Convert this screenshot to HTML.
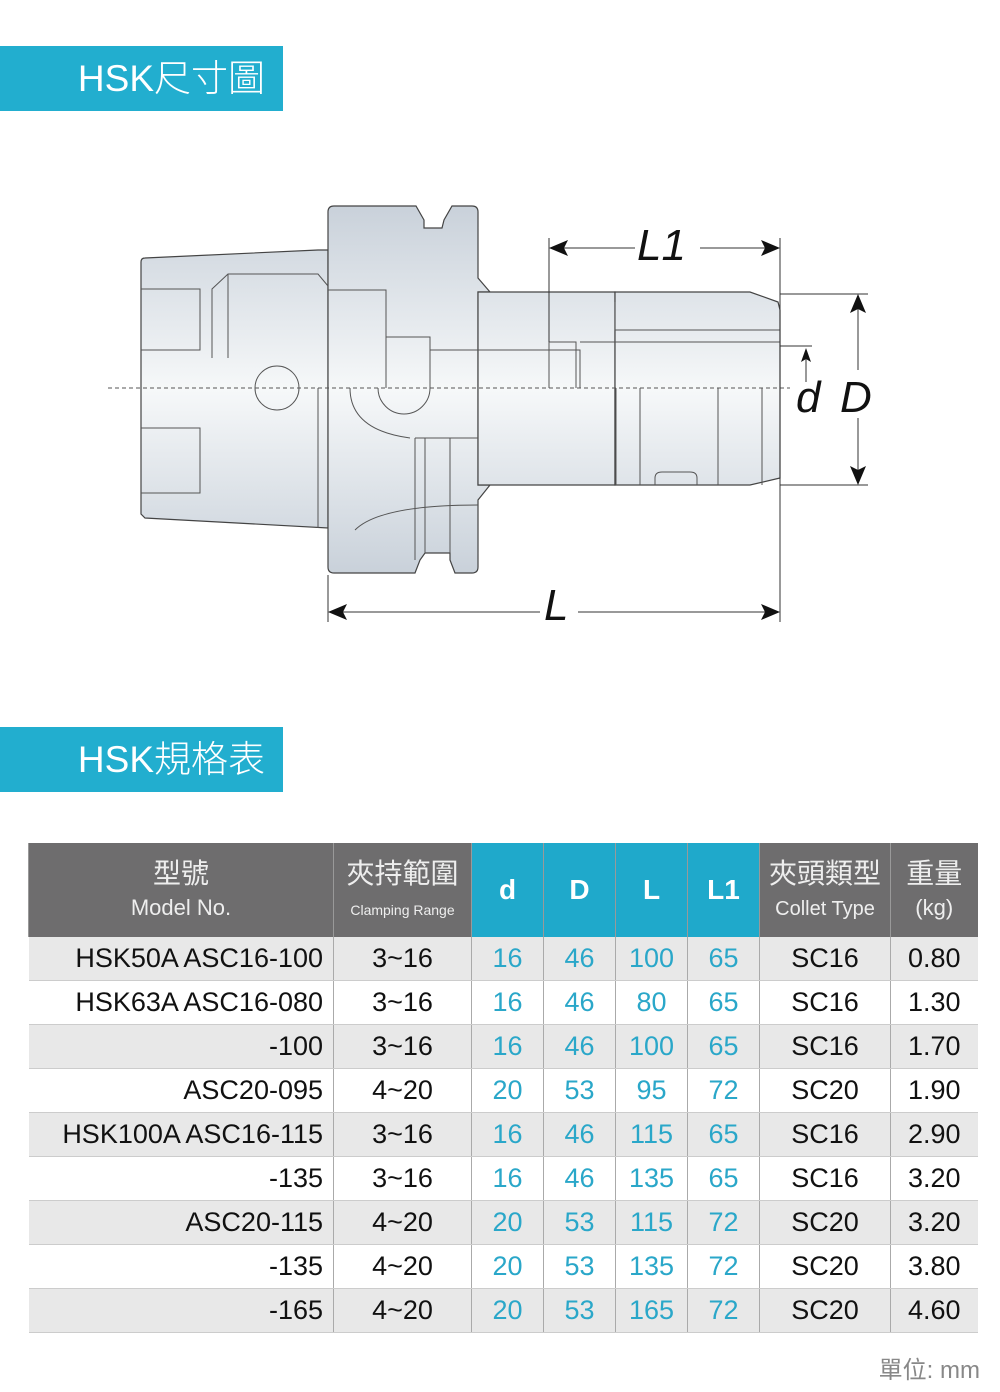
<!DOCTYPE html>
<html><head><meta charset="utf-8"><style>
body{margin:0;width:1000px;height:1392px;background:#fff;position:relative;overflow:hidden;font-family:"Liberation Sans","Noto Sans CJK TC",sans-serif}
.ban{position:absolute;left:0;width:283px;height:65px;background:#22aecf;color:#fff;font-size:37px;font-weight:300;line-height:65px;text-align:right;padding-right:18px;box-sizing:border-box}
table{position:absolute;left:28px;top:843px;border-collapse:collapse;table-layout:fixed}
td{padding:0;text-align:center;font-size:27px;height:43px;border-left:1px solid #aaa;color:#111;line-height:43px}
td:first-child{border-left:none;text-align:right;padding-right:10px}
tr.h td{height:94px;background:#6e6d6e;color:#eee;line-height:1.15;font-size:28px;border-left:1px solid #999}
tr.h td:first-child{text-align:center;padding:0}
tr.h td.b{background:#1fa9cb;color:#fff;font-weight:bold;font-size:28px}
tr.g td{background:#e8e8e8}
tr:not(.h) td{border-bottom:1px solid #ccc}
.n{color:#2aa7c9}
small{font-size:14px}
.e{font-size:22px}
</style></head><body>
<div class="ban" style="top:46px">HSK尺寸圖</div>
<div class="ban" style="top:727px">HSK規格表</div>
<svg width="1000" height="700" style="position:absolute;left:0;top:0">
<defs>
<linearGradient id="gr" x1="0" y1="206" x2="0" y2="573" gradientUnits="userSpaceOnUse">
<stop offset="0" stop-color="#c9d1da"/><stop offset="0.5" stop-color="#f6f8f9"/><stop offset="1" stop-color="#c9d1da"/></linearGradient>
</defs>
<g fill="url(#gr)" stroke="#444" stroke-width="1.2">
<path d="M141 262 Q141 258 145 258 L318 250 L328 250 L328 528 L145 518 L141 514 Z"/>
<path d="M328 212 Q328 206 334 206 L416 206 L424 220 L424 228 L442 228 L444 220 L452 206 L472 206 Q478 206 478 212 L478 278 L490 292 L478 292 L478 485 L490 485 L478 500 L478 567 Q478 573 472 573 L455 573 L450 560 L450 553 L425 553 L420 560 L415 573 L334 573 Q328 573 328 567 Z"/>
<path d="M478 292 L615 292 L615 485 L478 485 Z"/>
<path d="M615 292 L750 292 L778 302 L780 310 L780 478 L750 485 L615 485 Z"/>
</g>
<g fill="none" stroke="#555" stroke-width="1">
<path d="M141 289 L200 289 L200 350 L141 350 M141 428 L200 428 L200 493 L141 493"/>
<path d="M212 358 L212 289 L228 274 L318 274 L328 286 M228 274 L228 358"/>
<path d="M328 290 L386 290 L386 388 M386 337 L430 337 L430 388 M430 350 L580 350 L580 388 M549 342 L576 342 L576 388 M549 342 L549 388"/>
<path d="M580 342 L780 342 M615 302 L615 330 L780 330"/>
<path d="M318 388 L318 528 M616 388 L616 485 M640 388 L640 485 M718 388 L718 485 M762 388 L762 485"/>
<path d="M415 438 L415 560 M425 438 L425 553 M450 438 L450 553 M478 438 L415 438 M350 388 Q350 430 410 438"/>
<path d="M355 530 Q380 505 478 505"/>
<path d="M655 485 L655 478 Q655 472 662 472 L690 472 Q697 472 697 478 L697 485"/>
<circle cx="277" cy="388" r="22"/>
<path d="M378 388 A26 26 0 0 0 430 388"/>
</g>
<line x1="108" y1="388" x2="790" y2="388" stroke="#555" stroke-dasharray="4,3" stroke-width="1"/>
<g stroke="#333" stroke-width="1" fill="none">
<line x1="549" y1="238" x2="549" y2="342"/>
<line x1="780" y1="238" x2="780" y2="622"/>
<line x1="328" y1="575" x2="328" y2="622"/>
<line x1="553" y1="248" x2="635" y2="248"/><line x1="700" y1="248" x2="776" y2="248"/>
<line x1="332" y1="612" x2="540" y2="612"/><line x1="578" y1="612" x2="776" y2="612"/>
<line x1="780" y1="294" x2="868" y2="294"/><line x1="780" y1="485" x2="868" y2="485"/>
<line x1="858" y1="298" x2="858" y2="370"/><line x1="858" y1="418" x2="858" y2="481"/>
<line x1="780" y1="346" x2="812" y2="346"/><line x1="806" y1="352" x2="806" y2="382"/>
</g>
<g fill="#111">
<path d="M549 248 L568 240 L564 248 L568 256Z"/><path d="M780 248 L761 240 L765 248 L761 256Z"/>
<path d="M328 612 L347 604 L343 612 L347 620Z"/><path d="M780 612 L761 604 L765 612 L761 620Z"/>
<path d="M858 294 L850 313 L858 309 L866 313Z"/><path d="M858 485 L850 466 L858 470 L866 466Z"/>
<path d="M806 348 L801 362 L806 359 L811 362Z"/>
</g>
<g font-family="Liberation Sans" font-style="italic" font-size="44" fill="#111">
<text x="637" y="260">L1</text><text x="544" y="620">L</text>
<text x="796" y="412">d</text><text x="840" y="412">D</text>
</g>
</svg>
<table>
<colgroup><col style="width:305px"><col style="width:138px"><col style="width:72px"><col style="width:72px"><col style="width:72px"><col style="width:72px"><col style="width:131px"><col style="width:87px"></colgroup>
<tr class="h"><td>型號<br><span class="e">Model No.</span></td><td>夾持範圍<br><small>Clamping Range</small></td><td class="b">d</td><td class="b">D</td><td class="b">L</td><td class="b">L1</td><td>夾頭類型<br><span class="e" style="font-size:20px">Collet Type</span></td><td>重量<br><span class="e">(kg)</span></td></tr>
<tr class="g"><td>HSK50A ASC16-100</td><td>3~16</td><td class="n">16</td><td class="n">46</td><td class="n">100</td><td class="n">65</td><td>SC16</td><td>0.80</td></tr>
<tr><td>HSK63A ASC16-080</td><td>3~16</td><td class="n">16</td><td class="n">46</td><td class="n">80</td><td class="n">65</td><td>SC16</td><td>1.30</td></tr>
<tr class="g"><td>-100</td><td>3~16</td><td class="n">16</td><td class="n">46</td><td class="n">100</td><td class="n">65</td><td>SC16</td><td>1.70</td></tr>
<tr><td>ASC20-095</td><td>4~20</td><td class="n">20</td><td class="n">53</td><td class="n">95</td><td class="n">72</td><td>SC20</td><td>1.90</td></tr>
<tr class="g"><td>HSK100A ASC16-115</td><td>3~16</td><td class="n">16</td><td class="n">46</td><td class="n">115</td><td class="n">65</td><td>SC16</td><td>2.90</td></tr>
<tr><td>-135</td><td>3~16</td><td class="n">16</td><td class="n">46</td><td class="n">135</td><td class="n">65</td><td>SC16</td><td>3.20</td></tr>
<tr class="g"><td>ASC20-115</td><td>4~20</td><td class="n">20</td><td class="n">53</td><td class="n">115</td><td class="n">72</td><td>SC20</td><td>3.20</td></tr>
<tr><td>-135</td><td>4~20</td><td class="n">20</td><td class="n">53</td><td class="n">135</td><td class="n">72</td><td>SC20</td><td>3.80</td></tr>
<tr class="g"><td>-165</td><td>4~20</td><td class="n">20</td><td class="n">53</td><td class="n">165</td><td class="n">72</td><td>SC20</td><td>4.60</td></tr>
</table>
<div style="position:absolute;right:20px;top:1350px;font-size:24px;color:#888">單位: mm</div>
</body></html>
